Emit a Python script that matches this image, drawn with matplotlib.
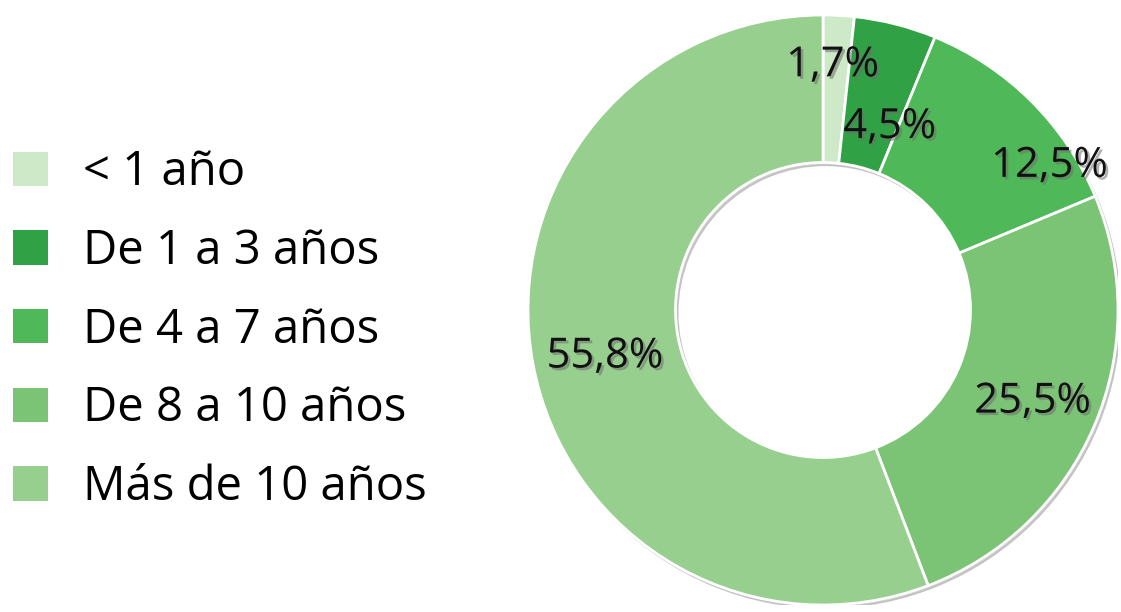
import matplotlib
matplotlib.use("Agg")
import matplotlib.pyplot as plt
import matplotlib.patheffects as pe
from matplotlib.patches import Wedge
import numpy as np

categories = ["< 1 año", "De 1 a 3 años", "De 4 a 7 años", "De 8 a 10 años", "Más de 10 años"]
values = [1.7, 4.5, 12.5, 25.5, 55.8]
value_labels = ["1,7%", "4,5%", "12,5%", "25,5%", "55,8%"]
colors = ["#cee9c8", "#31a146", "#4fb858", "#7cc475", "#97cf8e"]

# layout: label radius and angle offset (degrees) per label
label_radius = [0.83, 0.66, 0.91, 0.775, 0.756]
label_dangle = [0.8, -5.8, -12.7, -0.4, 1.6]

plt.rcParams['font.family'] = ['Open Sans', 'DejaVu Sans']

fig = plt.figure(figsize=(11.21, 6.12), dpi=100)
fig.patch.set_facecolor("white")

cx, cy, r = 823, 302, 295
W, H = 1121, 612
ax = fig.add_axes([(cx - r) / W, (cy - r) / H, 2 * r / W, 2 * r / H])
ax.axis("off")

# subtle outer shadow ring
shadow = Wedge((0.008, -0.010), 1.0, 0, 360, width=0.5, color="#b5b5b5", alpha=0.7, zorder=0)
ax.add_patch(shadow)

wedges, _ = ax.pie(values, colors=colors, startangle=90, counterclock=False,
                   radius=1.0,
                   wedgeprops=dict(width=0.5, edgecolor="white", linewidth=2))
for w in wedges:
    w.set_zorder(1)
ax.set_xlim(-1, 1)
ax.set_ylim(-1, 1)
ax.set_aspect("equal")

shadow_fx = [pe.SimplePatchShadow(offset=(1.8, -1.8), shadow_rgbFace="#6f6f6f", alpha=0.55),
             pe.Normal()]
for w, lab, rr, da in zip(wedges, value_labels, label_radius, label_dangle):
    mid = np.deg2rad((w.theta1 + w.theta2) / 2 + da)
    ax.text(rr * np.cos(mid), rr * np.sin(mid), lab, ha="center", va="center",
            fontsize=30, color="#111111", path_effects=shadow_fx, zorder=3)

leg = fig.legend(wedges, categories, loc="center left", bbox_to_anchor=(13 / W, 1 - 330 / H),
                 frameon=False, fontsize=34, handlelength=0.74, handleheight=0.74,
                 handletextpad=0.75, labelspacing=0.66, borderaxespad=0.0,
                 borderpad=0.0)
for h in leg.legend_handles:
    h.set_edgecolor("none")

fig.savefig("out.png", dpi=100, facecolor="white")
